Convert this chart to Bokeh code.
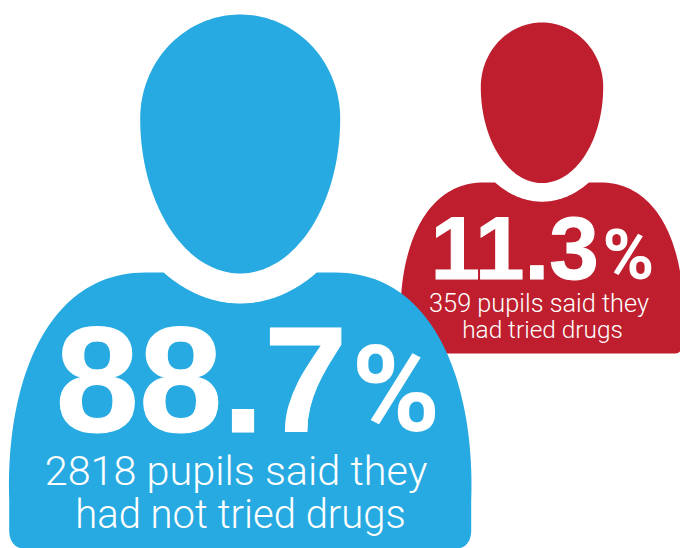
import numpy as np
from bokeh.plotting import figure
from bokeh.models import Range1d
from bokeh.core.properties import value
from bokeh.embed import file_html
from bokeh.resources import INLINE

percent = [88.7, 11.3]
pupils = [2818, 359]
line_one = ["{} pupils said they", "{} pupils said they"]
line_two = ["had not tried drugs", "had tried drugs"]
colours = ["#27AAE1", "#BE1E2D"]

BLUE = (239.7, 14.0, 1.0, 1.0)
RED = (541.5, 22.0, 0.612, 0.62)
DROP = 0.36  # share of the font size by which the renderer lowers a text


def bez(p0, p1, p2, p3, n=50):
    t = np.linspace(0, 1, n)[:, None]
    p0, p1, p2, p3 = map(np.array, (p0, p1, p2, p3))
    return (1-t)**3*p0 + 3*(1-t)**2*t*p1 + 3*(1-t)*t**2*p2 + t**3*p3


def head_outline():
    a = np.linspace(np.pi, 2*np.pi, 90)
    upper = np.c_[100*np.cos(a), 104 + 104*np.sin(a)]
    a = np.linspace(0, np.pi, 90)
    lower = np.c_[100*np.cos(a), 104 + 155*np.sin(a)]
    return np.r_[upper, lower]


def body_outline():
    a = np.linspace(np.arcsin(76.5/138), -np.arcsin(76.5/138), 80)
    neck = np.c_[-138*np.sin(a), 104 + 185*np.cos(a)]
    right = bez((95, 258), (195, 258), (235, 371), (231, 486))
    corner = bez((231, 516), (231, 526), (226, 534), (216, 534), 15)
    half = np.r_[right, corner]
    left = half[::-1] * np.array([-1, 1])
    return np.r_[neck, half, left]


p = figure(width=680, height=548, output_backend="svg", toolbar_location=None,
           x_range=Range1d(0, 680), y_range=Range1d(548, 0),
           min_border=0, outline_line_color=None, background_fill_color="white")
p.axis.visible = False
p.grid.visible = False


def person(place, colour):
    cx, top, sx, sy = place
    for shape in (head_outline(), body_outline()):
        p.patch(cx + shape[:, 0]*sx, top + shape[:, 1]*sy, fill_color=colour, line_color=None)


def words(x, y, text, font, size, style="normal", align="left", outline=None):
    extra = {"outline_color": outline} if outline else {}
    p.text([x], [y - DROP*size], text=[text], text_font=value(font), text_font_size=f"{size}px",
           text_font_style=style, text_color="white", text_align=align,
           text_baseline="alphabetic", **extra)


person(RED, colours[1])
person(BLUE, colours[0])

words(430, 279.5, f"{percent[1]}", "Liberation Sans", 89, "bold", outline="white")
words(602, 279.5, "%", "Roboto", 70, "bold")
words(538.5, 312, line_one[1].format(pupils[1]), "Roboto Light", 25.3, align="center")
words(542, 338, line_two[1], "Roboto Light", 24.4, align="center")

words(55, 433, f"{percent[0]}", "Liberation Sans", 150, "bold", outline="white")
words(351, 433, "%", "Roboto", 120, "bold")
words(235.5, 485, line_one[0].format(pupils[0]), "Roboto Light", 41.4, align="center")
words(240, 528, line_two[0], "Roboto Light", 40, align="center")

open("out.html", "w").write(file_html(p, INLINE))
